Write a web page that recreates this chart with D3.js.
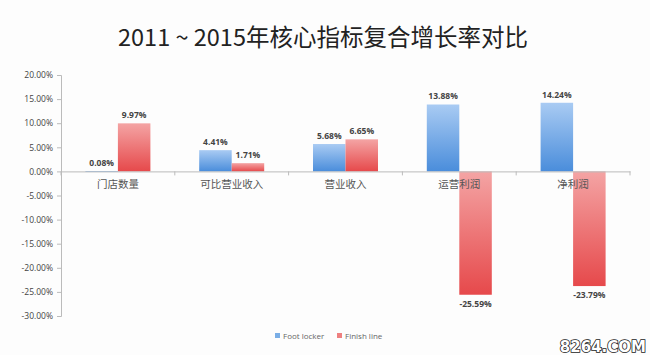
<!DOCTYPE html>
<html><head><meta charset="utf-8">
<script src="https://cdn.jsdelivr.net/npm/d3@7/dist/d3.min.js"></script>
<style>body{margin:0;background:#fff}svg{display:block}</style>
</head><body>
<script>
const categories = ["门店数量", "可比营业收入", "营业收入", "运营利润", "净利润"];
const seriesNames = ["Foot locker", "Finish line"];
const footLocker = [0.08, 4.41, 5.68, 13.88, 14.24];
const finishLine = [9.97, 1.71, 6.65, -25.59, -23.79];
const yTicks = [20, 15, 10, 5, 0, -5, -10, -15, -20, -25, -30];
const title = "2011 ~ 2015年核心指标复合增长率对比";

const W = 650, H = 355;
const svg = d3.select("body").append("svg").attr("width", W).attr("height", H);
svg.append("rect").attr("width", W).attr("height", H).attr("fill", "#fdfdfd");

const defs = svg.append("defs");
function grad(id, c1, c2) {
  const g = defs.append("linearGradient").attr("id", id).attr("x1", 0).attr("y1", 0).attr("x2", 0).attr("y2", 1);
  g.append("stop").attr("offset", "0%").attr("stop-color", c1);
  g.append("stop").attr("offset", "100%").attr("stop-color", c2);
}
grad("gBlue", "#a9cbf3", "#4a8ddb");
grad("gRed", "#f4a4a4", "#e6494b");

const y = d3.scaleLinear().domain([-30, 20]).range([316, 75]);
const x = d3.scaleBand().domain(categories).range([61, 630]);
const inner = d3.scaleBand().domain(seriesNames).range([x.bandwidth()/2 - 32.5, x.bandwidth()/2 + 32.5]);
const colors = {"Foot locker": "url(#gBlue)", "Finish line": "url(#gRed)"};
const legendColors = {"Foot locker": "#7aaee6", "Finish line": "#ee8080"};

svg.append("text").attr("x", 323).attr("y", 46).attr("text-anchor", "middle")
  .attr("font-family", "'Noto Sans CJK SC', 'Open Sans', sans-serif").attr("font-size", 23.5)
  .attr("fill", "#222").text(title);

// y axis
const yAxis = svg.append("g").attr("transform", "translate(61,0)")
  .call(d3.axisLeft(y).tickValues(yTicks).tickSize(4).tickFormat(d => d.toFixed(2) + "%"));
yAxis.select(".domain").attr("stroke", "#bbb");
yAxis.selectAll(".tick line").attr("stroke", "#bbb");
yAxis.selectAll("text").attr("fill", "#444").attr("font-size", 8.5)
  .attr("font-family", "'Open Sans', 'Liberation Sans', sans-serif").attr("x", -8);

const rows = categories.map((c, i) => ({cat: c, vals: [
  {s: seriesNames[0], v: footLocker[i]}, {s: seriesNames[1], v: finishLine[i]}]}));

const groups = svg.selectAll(".grp").data(rows).enter().append("g")
  .attr("transform", d => `translate(${x(d.cat)},0)`);
groups.selectAll("rect").data(d => d.vals).enter().append("rect")
  .attr("x", d => inner(d.s)).attr("width", inner.bandwidth())
  .attr("y", d => y(Math.max(0, d.v))).attr("height", d => Math.max(0.6, Math.abs(y(d.v) - y(0))))
  .attr("fill", d => colors[d.s]);
groups.selectAll("text.lbl").data(d => d.vals).enter().append("text")
  .attr("x", d => inner(d.s) + inner.bandwidth()/2)
  .attr("y", d => d.v >= 0 ? y(d.v) - 5 : y(d.v) + 12)
  .attr("text-anchor", "middle").attr("font-size", 8.5).attr("font-weight", "bold")
  .attr("font-family", "'Open Sans', 'Liberation Sans', sans-serif").attr("fill", "#444")
  .text(d => d.v.toFixed(2) + "%");

// x axis at zero
const xAxis = svg.append("g").attr("transform", `translate(0,${y(0)})`)
  .call(d3.axisBottom(x).tickSize(0).tickFormat(""));
xAxis.select(".domain").attr("stroke", "#bbb");
const bounds = categories.map(c => x(c) + x.bandwidth()).concat([x(categories[0])]);
svg.selectAll(".xt").data(bounds).enter().append("line")
  .attr("x1", d => d).attr("x2", d => d).attr("y1", y(0)).attr("y2", y(0) + 4).attr("stroke", "#bbb");
svg.selectAll(".cl").data(categories).enter().append("text")
  .attr("x", d => x(d) + x.bandwidth()/2).attr("y", y(0) + 17)
  .attr("text-anchor", "middle").attr("font-size", 10.5).attr("fill", "#555")
  .attr("font-family", "'Noto Sans CJK SC', sans-serif").text(d => d);

// legend
const lg = svg.append("g").attr("transform", "translate(275,338)");
const lx = [0, 62];
seriesNames.forEach((s, i) => {
  lg.append("rect").attr("x", lx[i]).attr("y", -5).attr("width", 5).attr("height", 5).attr("fill", legendColors[s]);
  lg.append("text").attr("x", lx[i] + 8).attr("y", 0.5).attr("font-size", 8)
    .attr("font-family", "'Open Sans', 'Liberation Sans', sans-serif").attr("fill", "#666").text(s);
});

// watermark
svg.append("text").attr("x", 646).attr("y", 352).attr("text-anchor", "end")
  .attr("font-family", "'DejaVu Sans', sans-serif").attr("font-weight", "bold").attr("font-size", 15)
  .attr("fill", "#fff").attr("stroke", "#222").attr("stroke-width", 1.6).attr("paint-order", "stroke")
  .text("8264.COM");
</script>
</body></html>
